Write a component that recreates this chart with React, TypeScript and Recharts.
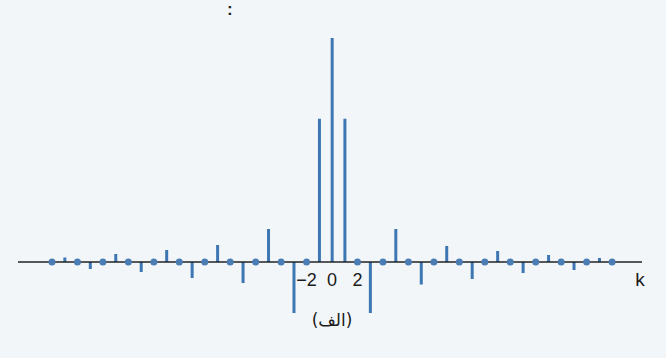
import React from "react";
import {
  ComposedChart,
  Bar,
  Line,
  XAxis,
  YAxis,
  ReferenceLine,
  ReferenceDot,
} from "recharts";

// Harmonic index k
const ks = [
  -22, -21, -20, -19, -18, -17, -16, -15, -14, -13, -12, -11, -10, -9, -8, -7, -6, -5, -4, -3, -2, -1,
  0, 1, 2, 3, 4, 5, 6, 7, 8, 9, 10, 11, 12, 13, 14, 15, 16, 17, 18, 19, 20, 21, 22,
];

// Coefficient values (normalized to k=0 -> 1)
const coefs = [
  0, 0.02, 0, -0.031, 0, 0.036, 0, -0.045, 0, 0.054, 0, -0.071, 0, 0.076, 0, -0.094, 0, 0.147, 0, -0.228, 0, 0.64,
  1, 0.64, 0, -0.228, 0, 0.147, 0, -0.1, 0, 0.071, 0, -0.076, 0, 0.049, 0, -0.049, 0, 0.031, 0, -0.036, 0, 0.018, 0,
];

const tickLabels = [
  { k: -2, text: "\u22122" },
  { k: 0, text: "0" },
  { k: 2, text: "2" },
];

const axisName = "k";
const caption = "(الف)";

const data = ks.map((k, i) => ({
  k,
  v: coefs[i],
  zero: coefs[i] === 0 ? 0 : null,
}));

const STEM = "#3d77b3";
const DOT = "#4a7db3";

export default function App() {
  return (
    <div
      style={{
        position: "absolute",
        left: 0,
        top: 0,
        width: 666,
        height: 358,
        background: "#f3f6f9",
        overflow: "hidden",
      }}
    >
      <div
        style={{
          position: "absolute",
          left: 227,
          top: 0,
          fontFamily: "Liberation Sans",
          fontSize: 17,
          fontWeight: "bold",
          lineHeight: "20px",
          color: "#222",
        }}
      >
        :
      </div>
      <ComposedChart
        width={666}
        height={358}
        data={data}
        margin={{ top: 38, right: 24, bottom: 28.8, left: 18 }}
      >
        <XAxis
          hide
          type="number"
          dataKey="k"
          domain={[-24.67, 24.35]}
          allowDataOverflow
        />
        <YAxis hide type="number" domain={[-0.3, 1]} allowDataOverflow />
        <ReferenceLine y={0} stroke="#222" strokeWidth={1.6} />
        <Bar dataKey="v" fill={STEM} barSize={3} isAnimationActive={false} />
        <Line
          dataKey="zero"
          stroke="none"
          dot={{ r: 3.5, fill: DOT, stroke: "none" }}
          activeDot={false}
          connectNulls={false}
          isAnimationActive={false}
        />
        {tickLabels.map((t) => (
          <ReferenceDot
            key={t.k}
            x={t.k}
            y={0}
            r={0}
            stroke="none"
            fill="none"
            label={{
              value: t.text,
              position: "bottom",
              offset: 11,
              fontSize: 18,
              fontFamily: "Liberation Sans",
              fill: "#1a1a1a",
            }}
          />
        ))}
        <ReferenceDot
          x={24.2}
          y={0}
          r={0}
          stroke="none"
          fill="none"
          label={{
            value: axisName,
            position: "bottom",
            offset: 11,
            fontSize: 19,
            fontFamily: "Liberation Sans",
            fill: "#1a1a1a",
          }}
        />
        <ReferenceDot
          x={0}
          y={0}
          r={0}
          stroke="none"
          fill="none"
          label={{
            value: caption,
            position: "bottom",
            offset: 52,
            fontSize: 17,
            fontFamily: "DejaVu Sans",
            fill: "#1a1a1a",
          }}
        />
      </ComposedChart>
    </div>
  );
}
